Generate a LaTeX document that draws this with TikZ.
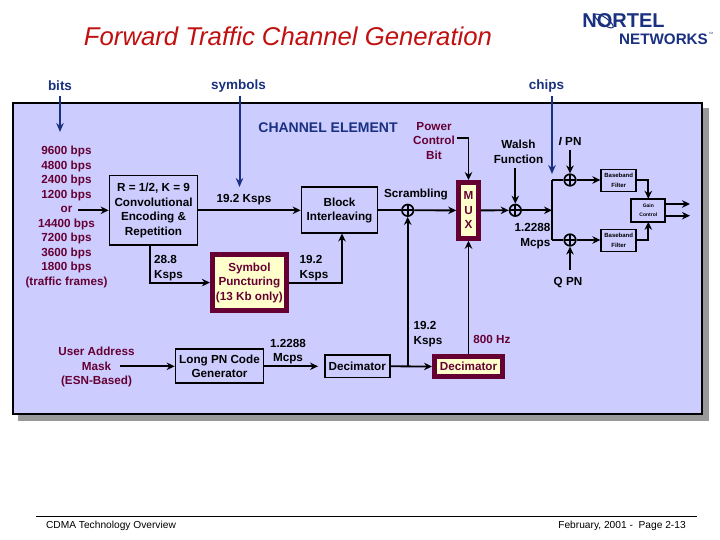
\documentclass[tikz,border=0pt]{standalone}
\usepackage{fontspec}
\setmainfont{Liberation Sans}
\usetikzlibrary{arrows.meta}
\definecolor{panelblue}{HTML}{CCCCFF}
\definecolor{shadowgray}{HTML}{999999}
\definecolor{wine}{HTML}{660033}
\definecolor{cream}{HTML}{FFFFCC}
\definecolor{navy}{HTML}{1A3080}
\definecolor{titlered}{HTML}{C01010}
\tikzset{
	x=1pt,y=-1pt,
	txt/.style={font=\fontsize{11.7}{14.5}\selectfont\bfseries,align=center,inner sep=0pt},
	toplabel/.style={txt,text=navy,font=\fontsize{13.5}{16}\selectfont\bfseries},
	winelabel/.style={txt,text=wine},
	box/.style={txt,draw=black,line width=1.7pt,fill=panelblue},
	redbox/.style={txt,draw=wine,line width=5pt,fill=cream,text=wine},
	tinybox/.style={box,font=\fontsize{6}{9.5}\selectfont\bfseries},
	wire/.style={draw=black,line width=1.8pt},
	flow/.style={wire,-{Stealth[length=8pt,width=7.5pt]}},
	rateflow/.style={draw=navy,line width=2pt,-{Stealth[length=9pt,width=7.5pt]}},
	xorsym/.style={circle,draw=black,line width=1.7pt,minimum size=11.5pt,inner sep=0pt,
		path picture={
			\draw[line width=1.7pt] (path picture bounding box.north) -- (path picture bounding box.south);
			\draw[line width=1.7pt] (path picture bounding box.west) -- (path picture bounding box.east);
		}},
	foot/.style={font=\fontsize{10.2}{12}\selectfont,inner sep=0pt}
}
\begin{document}
\begin{tikzpicture}
	\useasboundingbox (0,0) rectangle (720,540);
	\fill[white] (0,0) rectangle (720,540);

	\draw (288,36) node[font=\fontsize{25.7}{28}\selectfont\itshape,text=titlered,inner sep=0pt] (title) {Forward Traffic Channel Generation};
	\draw (623.5,20.5) node[font=\fontsize{20}{20}\selectfont\bfseries,text=navy,inner sep=0pt] (nortel) {NORTEL};
	\draw (663.5,39) node[font=\fontsize{15.2}{15.2}\selectfont\bfseries,text=navy,inner sep=0pt] (networks) {NETWORKS};
	\draw (711,33) node[font=\fontsize{3}{4}\selectfont,text=navy,inner sep=0pt] (trademark) {TM};
	\draw[navy,line width=1pt,rotate around={-35:(604,21)}] (604,21) ellipse (11 and 3.5);

	\fill[shadowgray] (18,108) rectangle (708.5,420.5);
	\draw[line width=1.7pt,fill=panelblue] (13,103) rectangle (702,414);

	\draw (60,86) node[toplabel] (bits) {bits};
	\draw (238.5,86) node[toplabel] (symbols) {symbols};
	\draw (546.5,86) node[toplabel] (chips) {chips};
	\draw (328,128) node[toplabel,font=\fontsize{14}{16}\selectfont\bfseries] (element) {CHANNEL ELEMENT};

	\draw (66.5,217) node[winelabel] (rates) {9600 bps\\4800 bps\\2400 bps\\1200 bps\\or\\14400 bps\\7200 bps\\3600 bps\\1800 bps\\(traffic frames)};
	\draw (434,141) node[winelabel] (power) {Power\\Control\\Bit};
	\draw (96.5,367) node[winelabel] (usermask) {User Address\\Mask\\(ESN-Based)};
	\draw (492,339) node[winelabel] (hz) {800 Hz};

	\draw (153.5,210.3) node[box,minimum width=88pt,minimum height=69.5pt] (conv) {R = 1/2, K = 9\\Convolutional\\Encoding \&\\Repetition};
	\draw (339.5,210.3) node[box,minimum width=76pt,minimum height=46pt] (block) {Block\\Interleaving};
	\draw (219.5,366.3) node[box,minimum width=88pt,minimum height=34pt] (longpn) {Long PN Code\\Generator};
	\draw (357.3,366.3) node[box,minimum width=65pt,minimum height=22.5pt] (decim) {Decimator};

	\draw (249.4,282.6) node[redbox,minimum width=74pt,minimum height=55.5pt] (punct) {Symbol\\Puncturing\\(13 Kb only)};
	\draw (468.5,210.4) node[redbox,minimum width=19.6pt,minimum height=55.7pt] (mux) {M\\U\\X};
	\draw (468.5,366.5) node[redbox,text=wine,minimum width=68pt,minimum height=20pt] (wdecim) {Decimator};

	\draw (407.7,210.3) node[xorsym] (xorscr) {};
	\draw (515.3,210.3) node[xorsym] (xorwalsh) {};
	\draw (570,180) node[xorsym] (xori) {};
	\draw (570,240) node[xorsym] (xorq) {};

	\draw (618.7,180.6) node[tinybox,minimum width=35pt,minimum height=22pt] (bbi) {Baseband\\Filter};
	\draw (618.7,240.6) node[tinybox,minimum width=35pt,minimum height=22pt] (bbq) {Baseband\\Filter};
	\draw (648.3,210.3) node[tinybox,font=\fontsize{5}{9.5}\selectfont\bfseries,minimum width=34pt,minimum height=23pt] (gain) {Gain\\Control};

	\draw (244,200) node[txt] (kspstop) {19.2 Ksps};
	\draw (168.5,268) node[txt,align=left] (ksps28) {28.8\\Ksps};
	\draw (314,268) node[txt,align=left] (ksps19) {19.2\\Ksps};
	\draw (428,334) node[txt,align=left] (kspslow) {19.2\\Ksps};
	\draw (416,195) node[txt] (scramble) {Scrambling};
	\draw (518.5,152) node[txt] (walsh) {Walsh\\Function};
	\draw (570,141) node[txt] (ipn) {\textit{I} PN};
	\draw (568,283) node[txt] (qpn) {Q PN};
	\draw (532.5,236) node[txt,align=right] (mcpsmain) {1.2288\\Mcps};
	\draw (288,351.5) node[txt] (mcpslong) {1.2288\\Mcps};

	\coordinate (bitsa) at (60,96);
	\coordinate (bitsb) at (60,132);
	\coordinate (syma) at (239.5,96);
	\coordinate (symb) at (239.5,187);
	\coordinate (chipa) at (552,96);
	\coordinate (chipb) at (552,174);
	\draw[rateflow] (bitsa) -- (bitsb);
	\draw[rateflow] (syma) -- (symb);
	\draw[rateflow] (chipa) -- (chipb);

	\coordinate (orout) at (78,210.3);
	\coordinate (convout) at (150,245);
	\coordinate (blockin) at (342,233.5);
	\coordinate (powerout) at (456.7,138);
	\coordinate (powerbend) at (468.5,138);
	\coordinate (walshout) at (515.3,168);
	\coordinate (split) at (552,210.3);
	\coordinate (splittop) at (552,180);
	\coordinate (splitbot) at (552,240);
	\coordinate (ipnout) at (570,150);
	\coordinate (qpnout) at (570,270);
	\coordinate (maskout) at (120,366.3);
	\coordinate (longout) at (318,366.3);
	\coordinate (tapscr) at (407.7,366.3);
	\coordinate (gainia) at (690,204);
	\coordinate (gainib) at (666,204);
	\coordinate (gainqa) at (690,215.7);
	\coordinate (gainqb) at (666,215.7);
	\coordinate (gainit) at (648.3,198.8);
	\coordinate (gainqt) at (648.3,221.8);

	\draw[flow] (orout) -- (conv.west);
	\draw[flow] (conv.east) -- (block.west);
	\draw[flow] (convout) |- (punct.west);
	\draw[flow] (punct.east) -| (blockin);
	\draw[wire] (block.east) -- (xorscr.west);
	\draw[flow] (xorscr.east) -- (mux.west);
	\draw[wire] (powerout) -- (powerbend);
	\draw[flow] (powerbend) -- (mux.north);
	\draw[flow] (mux.east) -- (xorwalsh.west);
	\draw[flow] (walshout) -- (xorwalsh.north);
	\draw[flow] (xorwalsh.east) -- (split);
	\draw[wire] (splitbot) -- (splittop);
	\draw[wire] (splittop) -- (xori.west);
	\draw[wire] (splitbot) -- (xorq.west);
	\draw[flow] (ipnout) -- (xori.north);
	\draw[flow] (qpnout) -- (xorq.south);
	\draw[flow] (xori.east) -- (bbi.west |- xori.east);
	\draw[flow] (xorq.east) -- (bbq.west |- xorq.east);
	\draw[flow] (bbi.east |- xori.east) -| (gainit);
	\draw[flow] (bbq.east |- xorq.east) -| (gainqt);
	\draw[flow] (gainib) -- (gainia);
	\draw[flow] (gainqb) -- (gainqa);
	\draw[flow] (maskout) -- (longpn.west);
	\draw[flow] (longpn.east) -- (longout);
	\draw[flow] (decim.east) -- (wdecim.west);
	\draw[flow] (tapscr) -- (xorscr.south);
	\draw[flow] (wdecim.north) -- (mux.south);

	\coordinate (footl) at (36,516.5);
	\coordinate (footr) at (697,516.5);
	\draw[line width=0.8pt] (footl) -- (footr);
	\draw (111,526) node[foot] (foota) {CDMA Technology Overview};
	\draw (622,526) node[foot] (footb) {February, 2001 -\ \ Page 2-13};
\end{tikzpicture}
\end{document}
